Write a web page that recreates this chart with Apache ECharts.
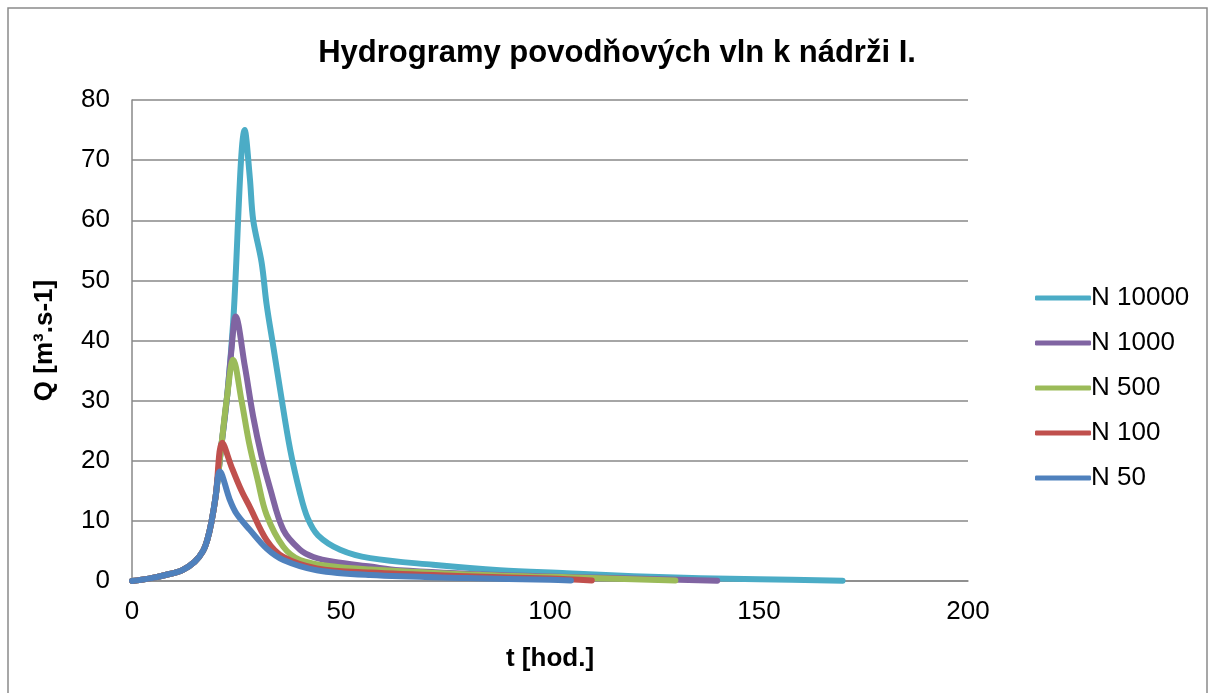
<!DOCTYPE html>
<html>
<head>
<meta charset="utf-8">
<script src="https://cdn.jsdelivr.net/npm/echarts@6/dist/echarts.min.js"></script>
<style>
    html, body { margin: 0; padding: 0; background: #fff; }
    #chart { width: 1214px; height: 693px; }
</style>
</head>
<body>
<div id="chart"></div>
<script>
// hydrographs, [t (hod.), Q (m3/s)]
const seriesNames = ['N 10000', 'N 1000', 'N 500', 'N 100', 'N 50']
const colors = ['#4BACC6', '#8064A2', '#9BBB59', '#C0504D', '#4F81BD']

const risingCommon = [[0, 0], [4, 0.4], [8, 1.0], [12, 1.8], [15, 3.2], [17, 5.0], [18, 6.8], [19, 9.8], [20, 14]]

const n10000 = [[21.3, 22], [22.8, 31], [24.2, 43], [27, 75], [28.2, 67], [29, 60], [31, 53], [32.2, 46], [33.8, 39],
    [35.4, 32], [37.8, 22], [40.2, 14.6], [42, 10.5], [44.5, 7.6], [49.8, 5.2], [57, 3.8], [72, 2.7], [88, 1.8],
    [104, 1.3], [120, 0.8], [136, 0.45], [150, 0.3], [170, 0.05]]
const n1000 = [[21.3, 22], [22.8, 31], [23.8, 38.5], [24.8, 44], [27, 35.7], [29, 27.3], [31, 20.7], [33, 15.5],
    [36.2, 8.5], [40.2, 5.2], [43.4, 4.0], [48.2, 3.2], [57, 2.4], [64, 1.8], [88, 1.0], [110, 0.6], [140, 0.05]]
const n500 = [[21.3, 22], [22.8, 31], [24.2, 36.8], [26.2, 30], [28, 23], [30, 17], [32.2, 11], [36.2, 5.7],
    [40.2, 3.5], [48.2, 2.4], [57, 1.9], [80, 1.1], [110, 0.5], [130, 0.1]]
const n100 = [[21.6, 23], [23.8, 19], [26.2, 15], [28.2, 12.3], [32.2, 6.8], [36.2, 4.0], [44.2, 2.1], [57, 1.4],
    [80, 0.8], [100, 0.4], [110, 0.1]]
const n50 = [[21, 18.2], [23.4, 13.5], [25, 11.2], [28.2, 8.5], [32.2, 5.4], [36.2, 3.5], [44.2, 1.8], [57, 1.0],
    [80, 0.5], [100, 0.2], [105, 0.1]]

const seriesData = [n10000, n1000, n500, n100, n50]

const xTicks = [0, 50, 100, 150, 200]
const yTicks = [0, 10, 20, 30, 40, 50, 60, 70, 80]

const myChart = echarts.init(document.getElementById('chart'))
const fontFamily = '"Liberation Sans", Arial, sans-serif'

myChart.setOption({
    animation: false,
    color: colors,
    textStyle: { fontFamily: fontFamily },
    title: {
        text: 'Hydrogramy povodňových vln k nádrži I.',
        left: 612,
        textAlign: 'center',
        top: 33,
        textStyle: { fontSize: 31, fontWeight: 'bold', color: '#000', fontFamily: fontFamily }
    },
    graphic: [{
        type: 'rect',
        shape: { x: 8, y: 8, width: 1199, height: 700 },
        style: { fill: 'none', stroke: '#8a8a8a', lineWidth: 1.5 },
        silent: true
    }],
    grid: {
        left: 132,
        right: 246,
        top: 100,
        bottom: 112
    },
    legend: {
        orient: 'vertical',
        left: 1030,
        top: 280,
        itemGap: 19,
        itemWidth: 56,
        itemHeight: 5,
        icon: 'roundRect',
        textStyle: { fontSize: 26, color: '#000', padding: [0, 0, 0, -5] },
        data: seriesNames
    },
    xAxis: {
        type: 'value',
        min: xTicks[0],
        max: xTicks[xTicks.length - 1],
        interval: 50,
        name: 't [hod.]',
        nameLocation: 'middle',
        nameGap: 65,
        nameTextStyle: { fontSize: 26, fontWeight: 'bold', color: '#000' },
        axisLine: { show: true, lineStyle: { color: '#888', width: 1.5 } },
        axisTick: { show: false },
        axisLabel: { fontSize: 26, color: '#000', margin: 18 },
        splitLine: { show: false }
    },
    yAxis: {
        type: 'value',
        min: yTicks[0],
        max: yTicks[yTicks.length - 1],
        interval: 10,
        name: 'Q [m³.s-1]',
        nameLocation: 'middle',
        nameGap: 74,
        nameTextStyle: { fontSize: 26, fontWeight: 'bold', color: '#000' },
        axisLine: { show: true, lineStyle: { color: '#888', width: 1.5 } },
        axisTick: { show: false },
        axisLabel: { fontSize: 26, color: '#000', margin: 22 },
        splitLine: { lineStyle: { color: '#888', width: 1.5 } }
    },
    series: seriesNames.map((name, i) => ({
        name: name,
        type: 'line',
        data: risingCommon.concat(seriesData[i]),
        smooth: 0.35,
        showSymbol: false,
        symbol: 'none',
        lineStyle: { width: 6, color: colors[i], cap: 'round', join: 'round' },
        z: 2 + i
    }))
})
</script>
</body>
</html>
